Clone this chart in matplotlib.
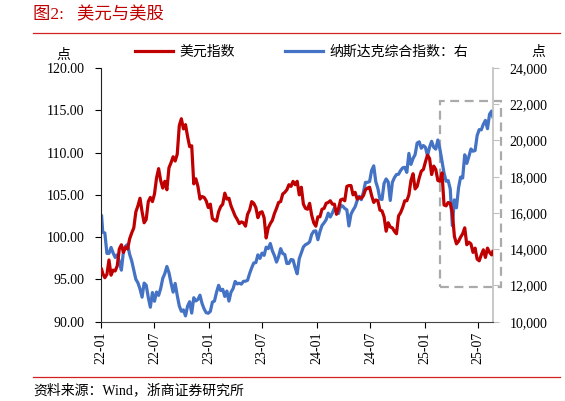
import numpy as np
import pandas as pd
from matplotlib import pyplot as plt
from matplotlib import ticker, dates as mdates
from matplotlib.lines import Line2D
from matplotlib.patches import Rectangle

FIGSIZE = (565, 401)
DPI = 100

RED = "#C00000"
BLUE = "#4472C4"
FONTS = ["Liberation Serif", "Noto Sans CJK SC", "DejaVu Sans"]
plt.rcParams["font.family"] = FONTS

# weekly closes (Fridays 2022-01-07 .. 2025-08-15), plus first and last day
first_day = "2022-01-03"
last_day = "2025-08-19"

dxy_2022 = [95.7, 95.2, 95.6, 97.3, 95.5, 96.1, 96.0, 96.6, 98.6, 99.1, 98.2, 98.8,
            98.6, 99.8, 100.5, 101.1, 103.0, 103.7, 104.6, 103.0, 101.7, 102.1, 104.2, 104.7,
            104.2, 105.1, 107.0, 108.1, 106.7, 105.8, 106.6, 105.6, 108.2, 108.8, 109.5, 109.0,
            109.8, 113.2, 114.0, 112.8, 113.3, 111.9, 110.7, 110.8, 106.3, 106.9, 106.0, 104.5,
            104.8, 104.7, 104.3, 103.5]
dxy_2023 = [103.9, 102.2, 102.0, 101.9, 103.0, 103.6, 103.9, 105.2, 104.5, 104.6, 103.7, 103.1,
            102.5, 102.1, 101.6, 101.8, 101.7, 101.3, 102.7, 103.2, 104.2, 104.0, 103.5, 102.3,
            102.9, 103.0, 102.3, 99.9, 101.1, 101.6, 102.0, 102.8, 103.4, 104.1, 104.2, 105.1,
            105.3, 105.6, 106.2, 106.0, 106.6, 106.2, 106.6, 105.0, 105.9, 103.9, 103.4, 103.3,
            104.0, 102.6, 101.7, 101.3]
dxy_2024 = [102.4, 102.4, 103.3, 103.4, 104.0, 104.1, 104.3, 103.9, 103.9, 102.7, 103.4, 104.4,
            104.5, 104.3, 106.0, 106.1, 106.1, 105.0, 105.3, 104.5, 104.7, 104.6, 104.9, 105.6,
            105.8, 105.9, 104.9, 104.1, 104.4, 104.3, 103.2, 103.1, 102.4, 100.7, 101.7, 101.2,
            101.1, 100.7, 100.4, 102.5, 102.9, 103.5, 104.3, 104.3, 105.0, 106.7, 107.5, 105.7,
            106.0, 107.0, 107.8, 108.0]
dxy_2025 = [108.9, 109.7, 109.3, 107.4, 108.4, 108.0, 106.7, 106.6, 107.6, 103.8, 103.7, 104.1,
            104.0, 102.9, 100.1, 99.2, 99.5, 100.0, 100.4, 101.1, 99.1, 99.4, 99.2, 98.2,
            98.7, 97.4, 97.2, 97.9, 98.5, 97.6, 98.7, 98.2, 97.9]
dxy_first, dxy_last = 96.2, 98.3

ndx_2022 = [14936, 14894, 13769, 13771, 14098, 13791, 13548, 13694, 13313, 12844, 13894, 14169,
            14262, 13711, 13352, 12840, 12335, 12145, 11805, 11355, 12131, 12013, 11340, 10798,
            11608, 11128, 11635, 11452, 11834, 12391, 12657, 13047, 12705, 12142, 11631, 12112,
            11448, 10868, 10576, 10652, 10321, 10860, 11102, 10475, 11323, 11146, 11226, 11462,
            11005, 10705, 10498, 10466]
ndx_2023 = [10569, 11079, 11140, 11622, 12007, 11718, 11787, 11395, 11690, 11138, 11630, 11824,
            12222, 12088, 12123, 12073, 12227, 12235, 12284, 12658, 12975, 13241, 13259, 13689,
            13492, 13788, 13660, 14113, 14032, 14316, 13909, 13645, 13290, 13590, 14031, 13761,
            13708, 13212, 13219, 13431, 13407, 12984, 12643, 13478, 13798, 14125, 14251, 14305,
            14404, 14814, 14993, 15011]
ndx_2024 = [14524, 14973, 15311, 15455, 15629, 15990, 15776, 15997, 16275, 16085, 15973, 16429,
            16379, 16249, 16175, 15282, 15928, 16156, 16341, 16686, 16921, 16735, 17133, 17689,
            17689, 17733, 18353, 18600, 17727, 17358, 16776, 16745, 17632, 17878, 17714, 16691,
            17684, 17948, 18120, 18138, 18343, 18490, 18519, 18240, 19287, 18680, 19004, 19218,
            19860, 19926, 19573, 19722]
ndx_2025 = [19622, 19162, 19630, 19954, 19627, 19523, 20027, 19524, 18847, 18196, 17754, 17784,
            17323, 15300, 16724, 16286, 17383, 17978, 17929, 19211, 18737, 19114, 19530, 19407,
            19447, 20273, 20601, 20586, 20896, 21108, 20650, 21450, 21622]
ndx_first, ndx_last = 15833, 21315

x_ticks = ["2022-01-01", "2022-07-01", "2023-01-01", "2023-07-01",
           "2024-01-01", "2024-07-01", "2025-01-01", "2025-07-01"]
left_ticks = [90, 95, 100, 105, 110, 115, 120]
right_ticks = [10000, 12000, 14000, 16000, 18000, 20000, 22000, 24000]

fridays = pd.date_range("2022-01-07", "2025-08-15", freq="W-FRI")
dates = pd.DatetimeIndex([pd.Timestamp(first_day)]).append(fridays).append(
    pd.DatetimeIndex([pd.Timestamp(last_day)]))
dxy = [dxy_first] + dxy_2022 + dxy_2023 + dxy_2024 + dxy_2025 + [dxy_last]
ndx = [ndx_first] + ndx_2022 + ndx_2023 + ndx_2024 + ndx_2025 + [ndx_last]

fig = plt.figure(figsize=(FIGSIZE[0] / DPI, FIGSIZE[1] / DPI), dpi=DPI)
ax = fig.add_axes([101 / 565, 1 - 321.7 / 401, (492.8 - 101) / 565, (321.7 - 68) / 401])
ax2 = ax.twinx()

l1, = ax.plot(dates, dxy, color=RED, lw=2.3, label="美元指数", zorder=3)
l2, = ax2.plot(dates, ndx, color=BLUE, lw=2.3, label="纳斯达克综合指数：右")
ax.set_zorder(ax2.get_zorder() + 1)
ax.patch.set_visible(False)

ax.set_xlim(pd.Timestamp("2022-01-01"), pd.Timestamp(last_day))
ax.set_ylim(90, 120)
ax2.set_ylim(10000, 24000)

ax.set_xticks([pd.Timestamp(d) for d in x_ticks])
ax.xaxis.set_major_formatter(mdates.DateFormatter("%y-%m"))
ax.set_yticks(left_ticks)
ax.yaxis.set_major_formatter(ticker.FormatStrFormatter("%.2f"))
ax2.set_yticks(right_ticks)
ax2.yaxis.set_major_formatter(ticker.StrMethodFormatter("{x:,.0f}"))

for lab in ax.get_xticklabels():
    lab.set_rotation(90)
ax.tick_params(axis="x", direction="out", length=4, labelsize=10, pad=3)
ax.tick_params(axis="y", direction="out", length=4, labelsize=10, pad=8)
ax2.tick_params(axis="y", direction="out", length=4, labelsize=10, pad=8, color="#BFBFBF")

for a in (ax, ax2):
    a.spines["top"].set_visible(False)
ax.spines["right"].set_visible(False)
ax2.spines["left"].set_visible(False)
ax2.spines["bottom"].set_visible(False)
ax2.spines["right"].set_color("#BFBFBF")
ax2.spines["right"].set_linewidth(1.2)
ax.spines["left"].set_color("#222222")
ax.spines["bottom"].set_color("#444444")

# highlight box for 2025
box = Rectangle((mdates.date2num(pd.Timestamp("2025-02-20")), 11900),
                mdates.date2num(pd.Timestamp("2025-09-16")) - mdates.date2num(pd.Timestamp("2025-02-20")),
                22200 - 11900, fill=False, ec="#AAAAAA", lw=1.6, ls=(0, (4, 2.5)), clip_on=False)
ax2.add_patch(box)

fig.legend(handles=[l1, l2], loc="center", bbox_to_anchor=(0.533, 1 - 52 / 401), ncol=2,
           frameon=False, fontsize=10, handlelength=2.8, columnspacing=3.6, handletextpad=0.4)

fig.text(63 / 565, 1 - 55 / 401, "点", fontsize=10, ha="center", va="center")
fig.text(538 / 565, 1 - 52 / 401, "点", fontsize=10, ha="center", va="center")

fig.text(33 / 565, 1 - 15 / 401, "图2:   美元与美股", fontsize=12.5, color=RED, va="center")
fig.text(33 / 565, 1 - 390 / 401, "资料来源：Wind，浙商证券研究所", fontsize=10, va="center")
fig.add_artist(Line2D([33 / 565, 560 / 565], [1 - 33 / 401] * 2, color="#D42020", lw=0.9))
fig.add_artist(Line2D([33 / 565, 560 / 565], [1 - 377 / 401] * 2, color="#D42020", lw=0.9))

plt.savefig("out.png", dpi=DPI)
